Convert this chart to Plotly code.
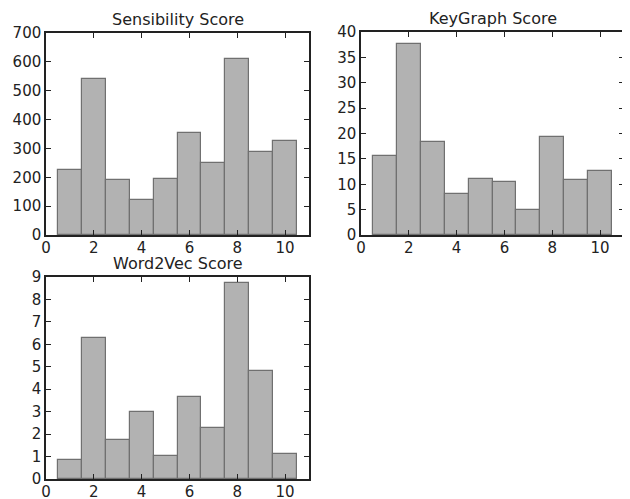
import plotly.graph_objects as go

bins = [1, 2, 3, 4, 5, 6, 7, 8, 9, 10]
sensibility = [224, 542, 191, 121, 195, 355, 250, 610, 288, 326]
keygraph = [15.6, 37.6, 18.4, 8.0, 11.05, 10.5, 4.9, 19.4, 10.8, 12.6]
word2vec = [0.83, 6.27, 1.75, 3.0, 1.01, 3.67, 2.26, 8.72, 4.83, 1.1]
titles = ["Sensibility Score", "KeyGraph Score", "Word2Vec Score"]

W, H = 630, 499
OFF = 8  # page body margin
font = dict(family="DejaVu Sans", size=15, color="#222222")

fig = go.Figure()
panels = [
    (sensibility, "x", "y", [46, 309], [33, 235], [0, 700], 100),
    (keygraph, "x2", "y2", [361, 624], [32, 235], [0, 40], 5),
    (word2vec, "x3", "y3", [46, 309], [277, 479], [0, 9], 1),
]
for i, (vals, xa, ya, xd, yd, yr, dt) in enumerate(panels):
    xd = [v - OFF for v in xd]
    yd = [v - OFF for v in yd]
    fig.add_trace(go.Bar(
        x=bins, y=vals, width=1.0, xaxis=xa, yaxis=ya,
        marker=dict(color="#b2b2b2", line=dict(color="#707070", width=1.2)),
        showlegend=False,
    ))
    sfx = "" if i == 0 else str(i + 1)
    common = dict(showline=True, linecolor="#222222", linewidth=1.5, mirror="ticks",
                  ticks="inside", ticklen=5, tickcolor="#222222", showgrid=False,
                  zeroline=False, tickfont=font, automargin=False)
    fig.layout["xaxis" + sfx] = dict(
        domain=[xd[0] / W, xd[1] / W], range=[0, 11], tickvals=[0, 2, 4, 6, 8, 10],
        anchor="y" + sfx, ticklabelstandoff=-2, **common)
    fig.layout["yaxis" + sfx] = dict(
        domain=[1 - yd[1] / H, 1 - yd[0] / H], range=yr, dtick=dt,
        anchor="x" + sfx, **common)
    fig.add_annotation(
        text=titles[i], x=(xd[0] + xd[1]) / 2 / W, y=1 - (yd[0] - 2) / H,
        xref="paper", yref="paper", xanchor="center", yanchor="bottom",
        showarrow=False, font=dict(family="DejaVu Sans", size=16, color="#222222"))

fig.update_layout(
    width=W, height=H, margin=dict(l=0, r=0, t=0, b=0, autoexpand=False),
    paper_bgcolor="white", plot_bgcolor="white", bargap=0,
)
fig.write_html("out.html")
